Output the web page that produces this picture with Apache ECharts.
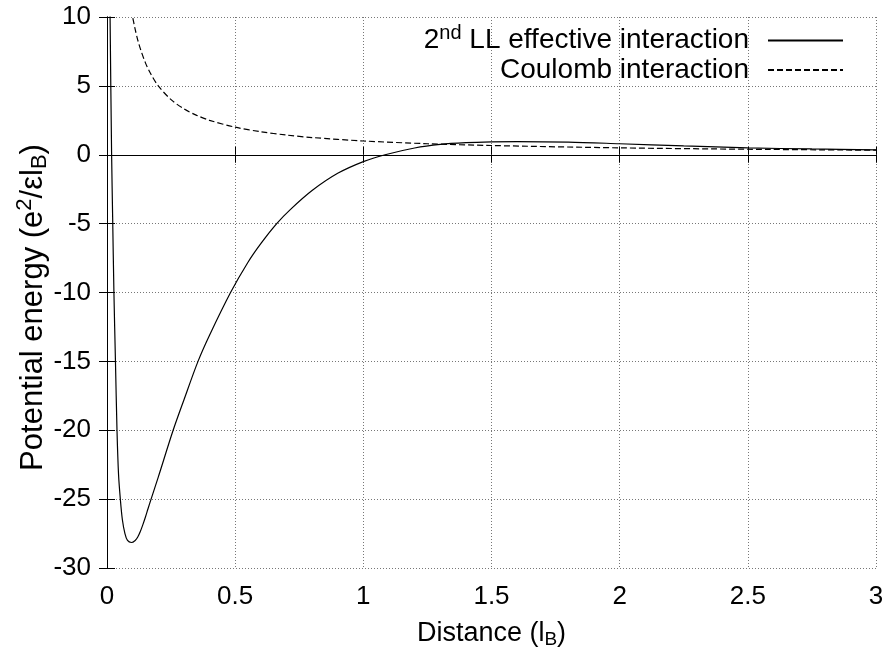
<!DOCTYPE html>
<html>
<head>
<meta charset="utf-8">
<script src="https://cdn.jsdelivr.net/npm/echarts@6/dist/echarts.min.js"></script>
<style>
html, body { margin: 0; padding: 0; background: #fff; }
#chart { width: 892px; height: 656px; }
</style>
</head>
<body>
<div id="chart"></div>
<script>
// Second Landau level effective interaction vs. plain Coulomb, as a function of distance
const effDistance = [0.008, 0.012, 0.018, 0.022, 0.027, 0.033, 0.039, 0.045, 0.052, 0.06, 0.07, 0.08, 0.095,
  0.11, 0.12, 0.13, 0.14, 0.15, 0.16, 0.172, 0.2, 0.258, 0.3, 0.355, 0.4, 0.482, 0.55, 0.6, 0.662,
  0.714, 0.8, 0.9, 1.0, 1.085, 1.2, 1.3, 1.4, 1.5, 1.6, 1.8, 2.0, 2.25, 2.5, 2.75, 3.0];
const effEnergy = [18, 10, 0, -4.5, -10, -15, -20, -23.2, -25, -26.5, -27.5, -28.0, -28.15,
  -28.0, -27.75, -27.35, -26.85, -26.3, -25.7, -25.0, -23.4, -20, -17.8, -15, -13.1, -10, -7.8, -6.45, -5,
  -4.0, -2.6, -1.35, -0.5, 0, 0.49, 0.75, 0.88, 0.94, 0.96, 0.92, 0.8, 0.64, 0.5, 0.42, 0.36];

const coulDistance = [0.08, 0.09, 0.1, 0.11, 0.12, 0.13, 0.15, 0.17, 0.2, 0.25, 0.3, 0.35, 0.4, 0.5, 0.6,
  0.7, 0.8, 1.0, 1.25, 1.5, 2.0, 2.5, 3.0];
const coulEnergy = [12.5, 11.1, 10, 9.1, 8.33, 7.7, 6.67, 5.9, 5, 4, 3.33, 2.86, 2.5, 2, 1.67,
  1.43, 1.25, 1, 0.8, 0.67, 0.5, 0.4, 0.33];

const xRange = { min: 0, max: 3, step: 0.5 };
const yRange = { min: -30, max: 10, step: 5 };

const FONT = 'Liberation Sans, Arial, sans-serif';

const pairs = (xs, ys) => xs.map((x, i) => [x, ys[i]]);

// rich-text styles for super/subscripts at a given base size
const richAt = (fs, lh) => ({
  n:   { fontFamily: FONT, fontSize: fs, color: '#000', lineHeight: lh },
  sup: { fontFamily: FONT, fontSize: Math.round(fs * 0.7), color: '#000', lineHeight: lh, padding: [0, 0, Math.round(fs * 0.55), 0] },
  sub: { fontFamily: FONT, fontSize: Math.round(fs * 0.7), color: '#000', lineHeight: lh, padding: [Math.round(fs * 0.45), 0, 0, 0] }
});

const gridLine = { show: true, lineStyle: { color: '#777', width: 1, type: [1, 2] } };
const frameLine = { show: true, lineStyle: { color: '#000', width: 1 } };
const innerTick = { show: true, inside: true, length: 8, lineStyle: { color: '#000', width: 1 } };
const tickLabel = { fontFamily: FONT, fontSize: 26, color: '#000', margin: 16 };

const chart = echarts.init(document.getElementById('chart'), null, { renderer: 'canvas' });
chart.setOption({
  animation: false,
  backgroundColor: '#fff',
  grid: { left: 107, right: 16, top: 17, bottom: 88, containLabel: false, outerBoundsMode: 'none' },
  legend: {
    orient: 'vertical',
    right: 43,
    top: 18,
    align: 'right',
    itemWidth: 75,
    itemHeight: 14,
    itemGap: -2,
    itemStyle: { opacity: 0 },
    data: ['2nd LL effective interaction', 'Coulomb interaction'],
    formatter: name => name.startsWith('2nd')
      ? '{n|2}{sup|nd}{n| LL effective interaction}'
      : '{n|Coulomb interaction}',
    textStyle: { fontFamily: FONT, fontSize: 28, color: '#000', padding: [0, 14, 0, 0], rich: richAt(28, 28) }
  },
  xAxis: [
    {
      type: 'value', position: 'bottom',
      min: xRange.min, max: xRange.max, interval: xRange.step,
      name: '{n|Distance (l}{sub|B}{n|)}',
      nameLocation: 'middle', nameGap: 50, nameMoveOverlap: false,
      nameTextStyle: { rich: richAt(27, 31) },
      axisLine: frameLine, axisTick: innerTick, splitLine: gridLine,
      axisLabel: tickLabel
    },
    {
      type: 'value', position: 'top',
      min: xRange.min, max: xRange.max, interval: xRange.step,
      axisLine: frameLine, axisTick: innerTick, splitLine: { show: false },
      axisLabel: { show: false }
    }
  ],
  yAxis: [
    {
      type: 'value', position: 'left',
      min: yRange.min, max: yRange.max, interval: yRange.step,
      name: '{n|Potential energy (e}{sup|2}{n|/εl}{sub|B}{n|)}',
      nameLocation: 'middle', nameGap: 57, nameRotate: 90, nameMoveOverlap: false,
      nameTextStyle: { rich: richAt(31, 34), padding: [0, 30, 0, 0] },
      axisLine: frameLine, axisTick: innerTick, splitLine: gridLine,
      axisLabel: tickLabel
    },
    {
      type: 'value', position: 'right',
      min: yRange.min, max: yRange.max, interval: yRange.step,
      axisLine: frameLine, axisTick: innerTick, splitLine: { show: false },
      axisLabel: { show: false }
    }
  ],
  series: [
    {
      name: '2nd LL effective interaction',
      type: 'line',
      data: pairs(effDistance, effEnergy),
      showSymbol: false, symbol: 'none',
      smooth: 0.3,
      clip: true,
      lineStyle: { color: '#000', width: 1.2, type: 'solid' },
      itemStyle: { color: '#000' },
      markLine: {
        silent: true, symbol: 'none', label: { show: false },
        lineStyle: { color: '#000', width: 1.2, type: 'solid' },
        data: [{ yAxis: 0 }]
      },
      z: 3
    },
    {
      name: 'Coulomb interaction',
      type: 'line',
      data: pairs(coulDistance, coulEnergy),
      showSymbol: false, symbol: 'none',
      smooth: 0.3,
      clip: true,
      lineStyle: { color: '#000', width: 1.2, type: [6, 3] },
      itemStyle: { color: '#000' },
      z: 3
    }
  ]
});
</script>
</body>
</html>
